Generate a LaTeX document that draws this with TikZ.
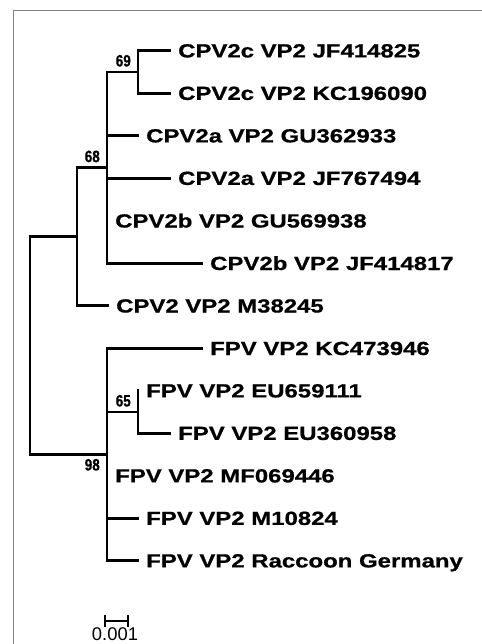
\documentclass[tikz,border=0pt]{standalone}
\usepackage{fontspec}
\setmainfont{Liberation Sans}
\newfontfamily\leaffont{Liberation Sans}[FakeStretch=1.26,FakeBold=0.8]
\newfontfamily\supfont{Liberation Sans}[FakeStretch=0.82,FakeBold=0.6]
\begin{document}
\begin{tikzpicture}[x=1pt,y=-1pt,
  br/.style={line width=2.8pt, line join=miter, line cap=rect},
  leaf/.style={anchor=base west, inner sep=0pt, xshift=8pt, yshift=-6.7pt,
    font=\leaffont\bfseries\fontsize{19}{20}\selectfont},
  sup/.style={anchor=base east, inner sep=0pt, xshift=-7pt, yshift=5.5pt,
    font=\supfont\bfseries\fontsize{16.5}{17}\selectfont},
  supb/.style={sup, yshift=-21.5pt},
  frame/.style={draw=black!50, line width=1.3pt}]
\useasboundingbox (0,0) rectangle (481,644);
\draw[frame] (13.3,650) -- (13.3,10.7) -- (490,10.7);
% internal nodes
\coordinate (root) at (30,345.6);
\coordinate (ncpv) at (77,236.7);
\coordinate (n68) at (107,167.6);
\coordinate (n69) at (138,72);
\coordinate (n98) at (107,454.5);
\coordinate (n65) at (138,412);
% tips
\coordinate (t1) at (170,50.7);
\coordinate (t2) at (170,93.2);
\coordinate (t3) at (138,135.7);
\coordinate (t4) at (170,178.2);
\coordinate (t5) at (107,220.8);
\coordinate (t6) at (202,263.3);
\coordinate (t7) at (108,305.8);
\coordinate (t8) at (202,348.3);
\coordinate (t9) at (138,390.7);
\coordinate (t10) at (170,433.2);
\coordinate (t11) at (107,475.7);
\coordinate (t12) at (138,518.2);
\coordinate (t13) at (138,560.7);
% branches
\draw[br] (root) |- (ncpv);
\draw[br] (root) |- (n98);
\draw[br] (ncpv) |- (n68);
\draw[br] (ncpv) |- (t7);
\draw[br] (n68) |- (n69);
\draw[br] (n69) |- (t1);
\draw[br] (n69) |- (t2);
\draw[br] (n68) |- (t3);
\draw[br] (n68) |- (t4);
\draw[br] (n68) |- (t5);
\draw[br] (n68) |- (t6);
\draw[br] (n98) |- (t8);
\draw[br] (n98) |- (n65);
\draw[br] (n65) |- (t9);
\draw[br] (n65) |- (t10);
\draw[br] (n98) |- (t11);
\draw[br] (n98) |- (t12);
\draw[br] (n98) |- (t13);
% leaf labels
\node[leaf] (l1) at (t1) {CPV2c VP2 JF414825};
\node[leaf] (l2) at (t2) {CPV2c VP2 KC196090};
\node[leaf] (l3) at (t3) {CPV2a VP2 GU362933};
\node[leaf] (l4) at (t4) {CPV2a VP2 JF767494};
\node[leaf] (l5) at (t5) {CPV2b VP2 GU569938};
\node[leaf] (l6) at (t6) {CPV2b VP2 JF414817};
\node[leaf] (l7) at (t7) {CPV2 VP2 M38245};
\node[leaf] (l8) at (t8) {FPV VP2 KC473946};
\node[leaf] (l9) at (t9) {FPV VP2 EU659111};
\node[leaf] (l10) at (t10) {FPV VP2 EU360958};
\node[leaf] (l11) at (t11) {FPV VP2 MF069446};
\node[leaf] (l12) at (t12) {FPV VP2 M10824};
\node[leaf] (l13) at (t13) {FPV VP2 Raccoon Germany};
% support values
\node[sup] (s69) at (n69) {69};
\node[sup] (s68) at (n68) {68};
\node[sup] (s65) at (n65) {65};
\node[supb] (s98) at (n98) {98};
% scale bar
\coordinate (sb1) at (105,621);
\coordinate (sb2) at (128,621);
\draw[line width=2.8pt] (sb1) -- (sb2);
\draw[line width=2.4pt] ([yshift=6pt]sb1) -- ([yshift=-6pt]sb1);
\draw[line width=2.4pt] ([yshift=6pt]sb2) -- ([yshift=-6pt]sb2);
\node[anchor=base, inner sep=0pt, font=\fontsize{18.4}{19}\selectfont] (sbl) at (115,640.5) {0.001};
\end{tikzpicture}
\end{document}
